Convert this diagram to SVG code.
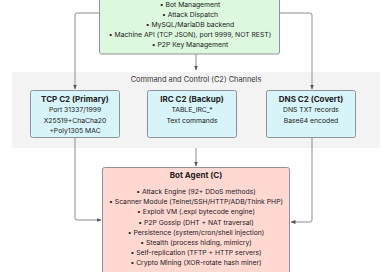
<svg xmlns="http://www.w3.org/2000/svg" width="392" height="272" viewBox="0 0 392 272">
<defs>
<marker id="ah" viewBox="0 0 10 10" refX="9" refY="5" markerWidth="5" markerHeight="5" orient="auto"><path d="M0,1 L10,5 L0,9 z" fill="#555"/></marker>
<style>
text{font-family:Inter,"Liberation Sans",sans-serif;fill:#222;text-anchor:middle}
.t{font-size:8px;font-weight:700}
.b{font-size:6.8px}
.g{font-size:7.4px;fill:#333}
.ln{fill:none;stroke:#8a8d96;stroke-width:1}
.box{stroke:#8f9399;stroke-width:1}
</style>
</defs>
<rect id="c2group" x="12" y="72" width="368" height="76" rx="3" fill="#f3f3f4"/>
<text class="g" x="196" y="82">Command and Control (C2) Channels</text>
<g id="connectors">
<path class="ln" d="M100,13 H77 Q75,13 75,15 V89" marker-end="url(#ah)"/>
<path class="ln" d="M280,13 H310 Q312,13 312,15 V89" marker-end="url(#ah)"/>
<path class="ln" d="M196,54 V70" marker-end="url(#ah)"/>
<path class="ln" d="M196,148 V166" marker-end="url(#ah)"/>
<path class="ln" d="M75,137 V218 Q75,220 77,220 H101" marker-end="url(#ah)"/>
<path class="ln" d="M312,137 V220 Q312,222 310,222 H291" marker-end="url(#ah)"/>
</g>
<g id="cnc">
<rect class="box" x="99.5" y="-10" width="180" height="64" rx="2" fill="#dcf8de"/>
<text class="b" x="190" y="7">• Bot Management</text>
<text class="b" x="190" y="17">• Attack Dispatch</text>
<text class="b" x="190" y="27">• MySQL/MariaDB backend</text>
<text class="b" x="190" y="37">• Machine API (TCP JSON), port 9999, NOT REST)</text>
<text class="b" x="190" y="47">• P2P Key Management</text>
</g>
<g id="tcp">
<rect class="box" x="30.5" y="90.5" width="89" height="47" rx="2" fill="#d7f4f9"/>
<text class="t" x="75" y="102">TCP C2 (Primary)</text>
<text class="b" x="75" y="112">Port 31337/1999</text>
<text class="b" x="75" y="122.5">X25519+ChaCha20</text>
<text class="b" x="75" y="132.5">+Poly1305 MAC</text>
</g>
<g id="irc">
<rect class="box" x="147.5" y="90.5" width="89" height="47" rx="2" fill="#d7f4f9"/>
<text class="t" x="192" y="102">IRC C2 (Backup)</text>
<text class="b" x="192" y="112">TABLE_IRC_*</text>
<text class="b" x="192" y="122.5">Text commands</text>
</g>
<g id="dns">
<rect class="box" x="266.5" y="90.5" width="89" height="47" rx="2" fill="#d7f4f9"/>
<text class="t" x="311" y="102">DNS C2 (Covert)</text>
<text class="b" x="311" y="112">DNS TXT records</text>
<text class="b" x="311" y="122.5">Base64 encoded</text>
</g>
<g id="bot">
<rect class="box" x="102.5" y="167.5" width="187" height="112" rx="2" fill="#ffd8d2"/>
<text class="t" x="196" y="178">Bot Agent (C)</text>
<text class="b" x="196" y="194">• Attack Engine (92+ DDoS methods)</text>
<text class="b" x="196" y="204.2">• Scanner Module (Telnet/SSH/HTTP/ADB/Think PHP)</text>
<text class="b" x="196" y="214.4">• Exploit VM (.expl bytecode engine)</text>
<text class="b" x="196" y="224.6">• P2P Gossip (DHT + NAT traversal)</text>
<text class="b" x="196" y="234.8">• Persistence (system/cron/shell injection)</text>
<text class="b" x="196" y="245">• Stealth (process hiding, mimicry)</text>
<text class="b" x="196" y="255.2">• Self-replication (TFTP + HTTP servers)</text>
<text class="b" x="196" y="265.4">• Crypto Mining (XOR-rotate hash miner)</text>
</g>
</svg>
